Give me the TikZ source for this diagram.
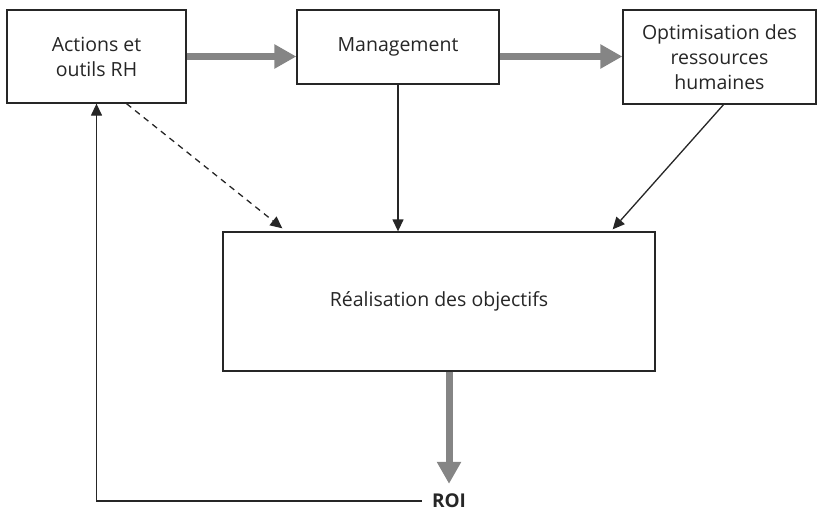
\documentclass[tikz,border=0pt]{standalone}
\usepackage{fontspec}
\setmainfont{Open Sans}
\usetikzlibrary{arrows.meta,calc}
\definecolor{flowgray}{HTML}{858585}
\definecolor{inkline}{HTML}{262626}
\tikzset{
  box/.style={draw=inkline, line width=1.3pt, fill=white, inner sep=0pt,
    align=center, font=\fontsize{19.5}{25}\selectfont, text=inkline},
  flow/.style={draw=flowgray, line width=7pt,
    -{Triangle[length=22pt,width=23pt]}},
  link/.style={draw=inkline, line width=1.3pt,
    -{Triangle[length=12pt,width=11pt]}},
  dashlink/.style={link, dash pattern=on 6pt off 5pt},
}
\begin{document}
\begin{tikzpicture}[x=1pt,y=-1pt]
  \useasboundingbox (0,0) rectangle (818,516);
  % boxes
  \node[box, minimum width=179pt, minimum height=93pt] (act) at (96.5,56.5)
    {Actions et\\outils RH};
  \node[box, minimum width=202pt, minimum height=74pt] (man) at (398,47)
    {Management};
  \node[box, minimum width=193pt, minimum height=94pt] (opt) at (719.5,57)
    {Optimisation des\\ressources\\humaines};
  \node[box, minimum width=432pt, minimum height=139pt] (rea) at (439,301.5)
    {R\'ealisation des objectifs};
  \node[font=\fontsize{19}{22}\selectfont\bfseries, text=inkline, inner sep=2pt]
    (roi) at (449,501) {ROI};
  % main flow, level with the first box
  \draw[flow] (act.east) -- (act.east -| man.west);
  \draw[flow] (act.east -| man.east) -- (act.east -| opt.west);
  \draw[flow] (rea.south -| roi) -- ($(roi.north)+(0,-8)$);
  % contributions to the objectives
  \draw[link] (man.south) -- (man.south |- rea.north);
  \coordinate (actout) at ($(act.south)+(30,0)$);
  \coordinate (reain1) at ($(rea.north west)+(60,-3)$);
  \draw[dashlink] (actout) -- (reain1);
  \coordinate (optout) at ($(opt.south)+(4,0)$);
  \coordinate (reain2) at ($(rea.north east)+(-43,-2)$);
  \draw[link] (optout) -- (reain2);
  % feedback loop
  \draw[link] ($(roi.west)+(-8,0)$) -| (act.south);
\end{tikzpicture}
\end{document}
